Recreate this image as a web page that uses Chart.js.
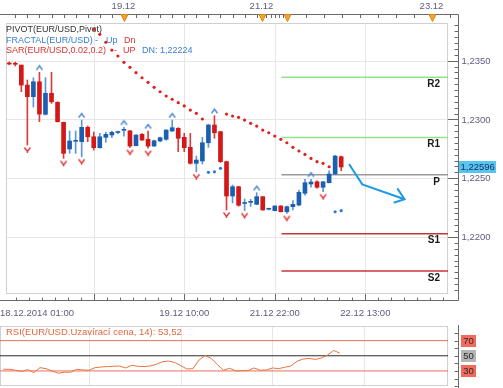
<!DOCTYPE html>
<html>
<head>
<meta charset="utf-8">
<script src="https://cdn.jsdelivr.net/npm/chart.js@4.4.1/dist/chart.umd.min.js"></script>
<style>
html, body { margin: 0; padding: 0; background: #fff; }
#wrap { position: relative; width: 503px; height: 388px; overflow: hidden; }
canvas { position: absolute; left: 0; }
#main { top: 0; }
#rsi { top: 325px; }
</style>
</head>
<body>
<div id="wrap">
  <canvas id="main" width="503" height="325"></canvas>
  <canvas id="rsi" width="503" height="63"></canvas>
</div>
<script>
// EUR/USD candles
var opens  = [1.23480, 1.23475, 1.23463, 1.23293, 1.23194, 1.23321, 1.23044, 1.23223, 1.23146, 1.22976,
              1.22749, 1.22814, 1.22811, 1.22933, 1.22853, 1.22760, 1.22848, 1.22868, 1.22889, 1.22908,
              1.22904, 1.22777, 1.22874, 1.22831, 1.22774, 1.22817, 1.22831, 1.22902, 1.22925, 1.22848,
              1.22763, 1.22627, 1.22647, 1.22802, 1.22953, 1.22896, 1.22641, 1.22349, 1.22428, 1.22285,
              1.22295, 1.22278, 1.22343, 1.22236, 1.22224, 1.22264, 1.22215, 1.22258, 1.22272, 1.22372,
              1.22451, 1.22470, 1.22423, 1.22462, 1.22536, 1.22683];
var highs  = [1.23489, 1.23489, 1.23463, 1.23336, 1.23355, 1.23401, 1.23355, 1.23401, 1.23151, 1.22978,
              1.22902, 1.22902, 1.22995, 1.22945, 1.22893, 1.22882, 1.22891, 1.22902, 1.22902, 1.22933,
              1.22904, 1.22870, 1.22880, 1.22902, 1.22825, 1.22850, 1.22915, 1.22995, 1.22930, 1.22882,
              1.22882, 1.22689, 1.22848, 1.22960, 1.23032, 1.22900, 1.22645, 1.22442, 1.22432, 1.22323,
              1.22320, 1.22377, 1.22343, 1.22245, 1.22266, 1.22266, 1.22264, 1.22309, 1.22400, 1.22491,
              1.22491, 1.22478, 1.22472, 1.22564, 1.22695, 1.22689];
var lows   = [1.23465, 1.23455, 1.23236, 1.22783, 1.23106, 1.22981, 1.23038, 1.23137, 1.22978, 1.22669,
              1.22712, 1.22712, 1.22683, 1.22811, 1.22740, 1.22755, 1.22806, 1.22845, 1.22880, 1.22859,
              1.22763, 1.22775, 1.22822, 1.22755, 1.22770, 1.22810, 1.22825, 1.22898, 1.22726, 1.22726,
              1.22620, 1.22555, 1.22621, 1.22763, 1.22840, 1.22635, 1.22230, 1.22290, 1.22262, 1.22224,
              1.22260, 1.22275, 1.22228, 1.22230, 1.22222, 1.22213, 1.22200, 1.22230, 1.22264, 1.22357,
              1.22423, 1.22415, 1.22385, 1.22460, 1.22530, 1.22564];
var closes = [1.23472, 1.23470, 1.23293, 1.23194, 1.23321, 1.23046, 1.23223, 1.23151, 1.22981, 1.22712,
              1.22817, 1.22819, 1.22933, 1.22853, 1.22760, 1.22853, 1.22874, 1.22891, 1.22893, 1.22912,
              1.22774, 1.22868, 1.22825, 1.22774, 1.22819, 1.22845, 1.22910, 1.22930, 1.22840, 1.22760,
              1.22627, 1.22655, 1.22802, 1.22953, 1.22887, 1.22641, 1.22349, 1.22428, 1.22270, 1.22290,
              1.22300, 1.22343, 1.22230, 1.22240, 1.22264, 1.22215, 1.22258, 1.22278, 1.22380, 1.22462,
              1.22468, 1.22423, 1.22470, 1.22536, 1.22689, 1.22596];

// parabolic SAR, down (red, above) and up (blue, below)
var sarDn = [null, null, null, null, null, null, null, null, null, null,
             null, null, null, null, 1.23767, 1.23725, 1.23657, 1.23591, 1.23540, 1.23486,
             1.23444, 1.23398, 1.23355, 1.23316, 1.23274, 1.23236, 1.23200, 1.23172, 1.23143, 1.23115,
             1.23080, 1.23052, 1.23004, null, null, null, 1.23046, 1.23029, 1.23018, 1.22995,
             1.22967, 1.22944, 1.22910, 1.22887, 1.22859, 1.22831, 1.22802, 1.22763, 1.22732, 1.22703,
             1.22669, 1.22641, 1.22627, 1.22598, null, null];
var sarUp = [null, null, null, null, null, null, null, null, null, null,
             null, null, null, null, null, null, null, null, null, null,
             null, null, null, null, null, null, null, null, null, null,
             null, null, null, 1.22550, 1.22555, 1.22584, null, null, null, null,
             null, null, null, null, null, null, null, null, null, null,
             null, null, null, null, 1.22215, 1.22224];

// fractal bars
var fractalUp = [5, 12, 19, 23, 27, 34, 41, 50];
var fractalDn = [3, 9, 12, 20, 23, 31, 36, 39, 46, 52];

// daily pivot levels
var pivotNames  = ['R2', 'R1', 'P', 'S1', 'S2'];
var pivotValues = [1.23359, 1.22847, 1.22529, 1.22028, 1.21711];
var pivotFrom   = 45.1;

// hand drawn arrow (bar index, price)
var arrowShaft = [[56.3, 1.22621], [58.5, 1.22448], [65.5, 1.22321]];
var arrowHead  = [[64.3, 1.22414], [65.5, 1.22321], [63.7, 1.22292]];

// RSI(14)
var rsi = [32.2, 32.2, 30.9, 29.1, 31.7, 27.8, 34.3, 33.0, 29.6, 27.0,
           28.3, 28.3, 32.2, 31.3, 30.9, 34.3, 35.2, 35.7, 36.1, 36.5,
           33.9, 37.4, 36.1, 35.7, 36.5, 38.7, 42.2, 43.0, 41.3, 37.0,
           32.6, 33.0, 44.3, 50.4, 46.5, 38.3, 30.9, 33.5, 30.0, 30.4,
           30.4, 33.9, 30.9, 31.3, 33.9, 33.0, 34.8, 36.5, 42.6, 45.7,
           46.5, 45.2, 47.0, 50.9, 57.0, 53.52];
var rsiLevels = [70, 50, 30];

// axes
var priceTicks = [1.2200, 1.2250, 1.2300, 1.2350];
var timeGrid   = [14, 29, 44, 59];
var timeLabels = ['18.12.2014 01:00', '19.12 10:00', '21.12 22:00', '22.12 13:00'];
var dayMarks   = [19, 41.9, 46.1, 70];
var dayLabels  = ['19.12', '21.12', '', '23.12'];

var X_MIN = -0.54, X_MAX = 72.7;
var Y_MIN = 1.21515, Y_MAX = 1.23821;
var RSI_MIN = 10.1, RSI_MAX = 89.3;

var FONT = '"Liberation Sans", Arial, sans-serif';
var AXIS_TXT = '#5d5d7e';
var UP_COL = '#1b5fb0', DN_COL = '#d41717';
var UP_WICK = '#5d95d6', DN_WICK = '#dd3a3a';

function line(ctx, x1, y1, x2, y2) {
    ctx.beginPath(); ctx.moveTo(x1, y1); ctx.lineTo(x2, y2); ctx.stroke();
}

function chevron(color, up) {
    var c = document.createElement('canvas');
    c.width = 9; c.height = 22;
    var g = c.getContext('2d');
    g.strokeStyle = color; g.lineWidth = 1.4; g.lineJoin = 'miter';
    g.beginPath();
    if (up) { g.moveTo(1.5, 8.5); g.lineTo(4.5, 4.5); g.lineTo(7.5, 8.5); }
    else { g.moveTo(1.5, 13.5); g.lineTo(4.5, 17.5); g.lineTo(7.5, 13.5); g.moveTo(4.5, 17.5); g.lineTo(4.5, 19); }
    g.stroke();
    return c;
}

var idx = closes.map(function (_, i) { return i; });
var isUp = idx.map(function (i) { return closes[i] > opens[i]; });

var mainDecor = {
    id: 'mainDecor',
    beforeDatasetsDraw: function (chart) {
        var ctx = chart.ctx, a = chart.chartArea, x = chart.scales.x, y = chart.scales.y;
        ctx.save();
        ctx.lineWidth = 1;
        ctx.strokeStyle = '#e7e7e7';
        timeGrid.forEach(function (i) {
            var px = Math.round(x.getPixelForValue(i)) + 0.5;
            line(ctx, px, a.top, px, a.bottom);
        });
        priceTicks.forEach(function (v) {
            var py = Math.round(y.getPixelForValue(v)) + 0.5;
            line(ctx, a.left, py, a.right, py);
        });
        ctx.strokeStyle = '#d0d0d0';
        ctx.strokeRect(a.left + 0.5, a.top + 0.5, a.right - a.left - 1, a.bottom - a.top - 1);

        // indicator legend
        ctx.font = '9px ' + FONT;
        ctx.textBaseline = 'middle';
        ctx.textAlign = 'left';
        ctx.fillStyle = '#333';
        ctx.fillText('PIVOT(EUR/USD,Pivot)', 6, 29.5);
        ctx.fillStyle = '#3b7dd3';
        ctx.fillText('FRACTAL(EUR/USD)', 6, 40.5);
        ctx.fillText('-', 95, 40.5);
        ctx.fillText('Up', 106, 40.5);
        ctx.fillStyle = '#e03030';
        ctx.fillText('Dn', 124, 40.5);
        ctx.fillText('SAR(EUR/USD,0.02,0.2)', 6, 51);
        ctx.fillText('-', 114, 51);
        ctx.fillText('UP', 123, 51);
        ctx.fillStyle = '#3b7dd3';
        ctx.fillText('DN: 1,22224', 142, 51);
        ctx.restore();
    },
    afterDraw: function (chart) {
        var ctx = chart.ctx, a = chart.chartArea, x = chart.scales.x, y = chart.scales.y;
        var axR = a.right + 10.5, axTop = a.top - 8.5, axBot = a.bottom + 6.5;
        ctx.save();
        ctx.lineWidth = 1;
        ctx.strokeStyle = '#6a6a6a';
        // top time axis
        line(ctx, 0, axTop, axR, axTop);
        var t;
        for (t = 1; t < dayMarks[1]; t += 2) {
            var px = Math.round(x.getPixelForValue(t)) + 0.5;
            line(ctx, px, axTop, px, axTop + 3.5);
        }
        for (t = dayMarks[1] + 0.7; t < dayMarks[2]; t += 0.7) {
            var px2 = Math.round(x.getPixelForValue(t)) + 0.5;
            line(ctx, px2, axTop, px2, axTop + 3.5);
        }
        for (t = dayMarks[2] + 3; t <= X_MAX + 2; t += 3) {
            var px3 = Math.round(x.getPixelForValue(t)) + 0.5;
            if (px3 < axR) line(ctx, px3, axTop, px3, axTop + 3.5);
        }
        // right price axis
        line(ctx, axR, axTop, axR, axBot);
        var step = 0.0005;
        for (var v = Math.ceil(Y_MIN / step) * step; v <= Y_MAX; v += step) {
            var py = Math.round(y.getPixelForValue(v)) + 0.5;
            line(ctx, axR - 4, py, axR, py);
        }
        priceTicks.forEach(function (v) {
            var py = Math.round(y.getPixelForValue(v)) + 0.5;
            line(ctx, a.right, py, axR, py);
        });
        // bottom time axis
        line(ctx, 0, axBot, axR, axBot);
        var sub = 15 / 7;
        for (t = timeGrid[0] - 6 * sub; t <= X_MAX; t += sub) {
            var bx = Math.round(x.getPixelForValue(t)) + 0.5;
            if (bx > 0 && bx < axR) line(ctx, bx, axBot - 3, bx, axBot);
        }
        timeGrid.forEach(function (i) {
            var gx = Math.round(x.getPixelForValue(i)) + 0.5;
            line(ctx, gx, a.bottom, gx, axBot);
        });

        ctx.fillStyle = AXIS_TXT;
        ctx.font = '9.5px ' + FONT;
        ctx.textBaseline = 'middle';
        // price labels
        ctx.textAlign = 'left';
        priceTicks.forEach(function (v) {
            ctx.fillText(v.toFixed(4).replace('.', ','), axR + 3, y.getPixelForValue(v) + 0.5);
        });
        // time labels
        ctx.textAlign = 'left';
        ctx.fillText(timeLabels[0], 0, 313);
        ctx.textAlign = 'center';
        for (var k = 1; k < timeLabels.length; k++) {
            ctx.fillText(timeLabels[k], x.getPixelForValue(timeGrid[k]), 313);
        }
        // day labels and markers
        dayMarks.forEach(function (d, k) {
            var dx = Math.round(x.getPixelForValue(d)) + 0.5;
            if (dayLabels[k]) {
                ctx.fillStyle = AXIS_TXT;
                ctx.fillText(dayLabels[k], dx - 1, 6.5);
            }
            ctx.fillStyle = '#f2a42a';
            ctx.strokeStyle = '#d88a18';
            ctx.beginPath();
            ctx.moveTo(dx - 3.5, axTop); ctx.lineTo(dx + 3.5, axTop); ctx.lineTo(dx, axTop + 7); ctx.closePath();
            ctx.fill(); ctx.stroke();
        });
        // pivot names
        ctx.fillStyle = '#1a1a1a';
        ctx.font = 'bold 10px ' + FONT;
        ctx.textAlign = 'right';
        pivotValues.forEach(function (v, k) {
            ctx.fillText(pivotNames[k], a.right - 8, y.getPixelForValue(v) + 7);
        });
        // last price box
        var last = closes[closes.length - 1];
        var ly = y.getPixelForValue(last);
        ctx.fillStyle = '#58c4f2';
        ctx.fillRect(axR + 0.5, Math.round(ly) - 6, 37, 12);
        ctx.fillStyle = '#12305a';
        ctx.font = '9.5px ' + FONT;
        ctx.textAlign = 'left';
        ctx.fillText(last.toFixed(5).replace('.', ','), axR + 2, ly + 0.5);
        ctx.restore();
    }
};

var datasets = [];
datasets.push({
    type: 'line', order: 0,
    data: arrowShaft.map(function (p) { return {x: p[0], y: p[1]}; }),
    borderColor: '#1e9be0', borderWidth: 2, pointRadius: 0, tension: 0
});
datasets.push({
    type: 'line', order: 0,
    data: arrowHead.map(function (p) { return {x: p[0], y: p[1]}; }),
    borderColor: '#1e9be0', borderWidth: 2, pointRadius: 0, tension: 0
});
datasets.push({
    type: 'line', order: 1, showLine: false,
    data: idx.map(function (i) { return {x: i, y: sarDn[i]}; }),
    pointRadius: 1.6, pointBorderWidth: 0, pointBackgroundColor: '#e01f1f'
});
datasets.push({
    type: 'line', order: 1, showLine: false,
    data: idx.map(function (i) { return {x: i, y: sarUp[i]}; }),
    pointRadius: 1.6, pointBorderWidth: 0, pointBackgroundColor: '#2a78d6'
});
datasets.push({
    type: 'scatter', order: 2,
    data: fractalUp.map(function (i) { return {x: i, y: highs[i]}; }),
    pointStyle: chevron('#4f86d4', true), pointRadius: 5
});
datasets.push({
    type: 'scatter', order: 2,
    data: fractalDn.map(function (i) { return {x: i, y: lows[i]}; }),
    pointStyle: chevron('#e03a3a', false), pointRadius: 5
});
datasets.push({
    type: 'bar', order: 3, grouped: false,
    data: idx.map(function (i) { return {x: i, y: [opens[i], closes[i]]}; }),
    backgroundColor: idx.map(function (i) { return isUp[i] ? UP_COL : DN_COL; }),
    barThickness: 4, minBarLength: 1, borderWidth: 0
});
datasets.push({
    type: 'bar', order: 4, grouped: false,
    data: idx.map(function (i) { return {x: i, y: [lows[i], highs[i]]}; }),
    backgroundColor: idx.map(function (i) { return isUp[i] ? UP_WICK : DN_WICK; }),
    barThickness: 1, minBarLength: 1, borderWidth: 0
});
var pivotColors = ['#92e28c', '#92e28c', '#9a9a9a', '#c8343a', '#c8343a'];
pivotValues.forEach(function (v, k) {
    datasets.push({
        type: 'line', order: 5,
        data: [{x: pivotFrom, y: v}, {x: X_MAX, y: v}],
        borderColor: pivotColors[k], borderWidth: 1.5, pointRadius: 0
    });
});

new Chart(document.getElementById('main'), {
    type: 'bar',
    data: {datasets: datasets},
    options: {
        responsive: false, animation: false, events: [],
        layout: {padding: {left: 0, right: 55, top: 23, bottom: 31}},
        plugins: {legend: {display: false}, tooltip: {enabled: false}},
        scales: {
            x: {type: 'linear', display: false, offset: false, min: X_MIN, max: X_MAX},
            y: {type: 'linear', display: false, min: Y_MIN, max: Y_MAX}
        }
    },
    plugins: [mainDecor]
});

// RSI panel
var rsiDecor = {
    id: 'rsiDecor',
    beforeDatasetsDraw: function (chart) {
        var ctx = chart.ctx, a = chart.chartArea, x = chart.scales.x;
        ctx.save();
        ctx.lineWidth = 1;
        ctx.strokeStyle = '#e7e7e7';
        timeGrid.forEach(function (i) {
            var px = Math.round(x.getPixelForValue(i)) + 0.5;
            line(ctx, px, a.top, px, a.bottom);
        });
        ctx.strokeStyle = '#d0d0d0';
        ctx.strokeRect(a.left + 0.5, a.top + 0.5, a.right - a.left - 1, a.bottom - a.top - 1);
        ctx.fillStyle = '#e2673d';
        ctx.font = '9.5px ' + FONT;
        ctx.textBaseline = 'middle';
        ctx.fillText('RSI(EUR/USD.Uzavírací cena, 14): ' + rsi[rsi.length - 1].toFixed(2).replace('.', ','), 6, 7);
        ctx.restore();
    },
    afterDraw: function (chart) {
        var ctx = chart.ctx, a = chart.chartArea, y = chart.scales.y;
        var axR = a.right + 10.5;
        ctx.save();
        ctx.lineWidth = 1;
        ctx.strokeStyle = '#6a6a6a';
        line(ctx, axR, 0, axR, chart.height);
        for (var v = 10; v <= 80; v += 10) {
            var py = Math.round(y.getPixelForValue(v)) + 0.5;
            line(ctx, axR - 4, py, axR, py);
        }
        ctx.font = '9.5px ' + FONT;
        ctx.textBaseline = 'middle';
        ctx.textAlign = 'center';
        rsiLevels.forEach(function (v) {
            var py = y.getPixelForValue(v);
            ctx.fillStyle = v === 50 ? '#b4b4b4' : '#f26a5c';
            ctx.fillRect(axR + 2.5, Math.round(py) - 6, 15, 12);
            ctx.fillStyle = '#2a2a2a';
            ctx.fillText(String(v), axR + 10, py + 0.5);
        });
        ctx.restore();
    }
};

var rsiSets = [{
    type: 'line', order: 0,
    data: idx.map(function (i) { return {x: i, y: rsi[i]}; }),
    borderColor: '#e8743e', borderWidth: 1, pointRadius: 0, tension: 0
}];
rsiLevels.forEach(function (v) {
    rsiSets.push({
        type: 'line', order: 1,
        data: [{x: X_MIN, y: v}, {x: X_MAX, y: v}],
        borderColor: v === 50 ? '#2b2b2b' : '#e8705a', borderWidth: 1, pointRadius: 0
    });
});

new Chart(document.getElementById('rsi'), {
    type: 'line',
    data: {datasets: rsiSets},
    options: {
        responsive: false, animation: false, events: [],
        layout: {padding: {left: 0, right: 55, top: 1, bottom: 2}},
        plugins: {legend: {display: false}, tooltip: {enabled: false}},
        scales: {
            x: {type: 'linear', display: false, min: X_MIN, max: X_MAX},
            y: {type: 'linear', display: false, min: RSI_MIN, max: RSI_MAX}
        }
    },
    plugins: [rsiDecor]
});
</script>
</body>
</html>
